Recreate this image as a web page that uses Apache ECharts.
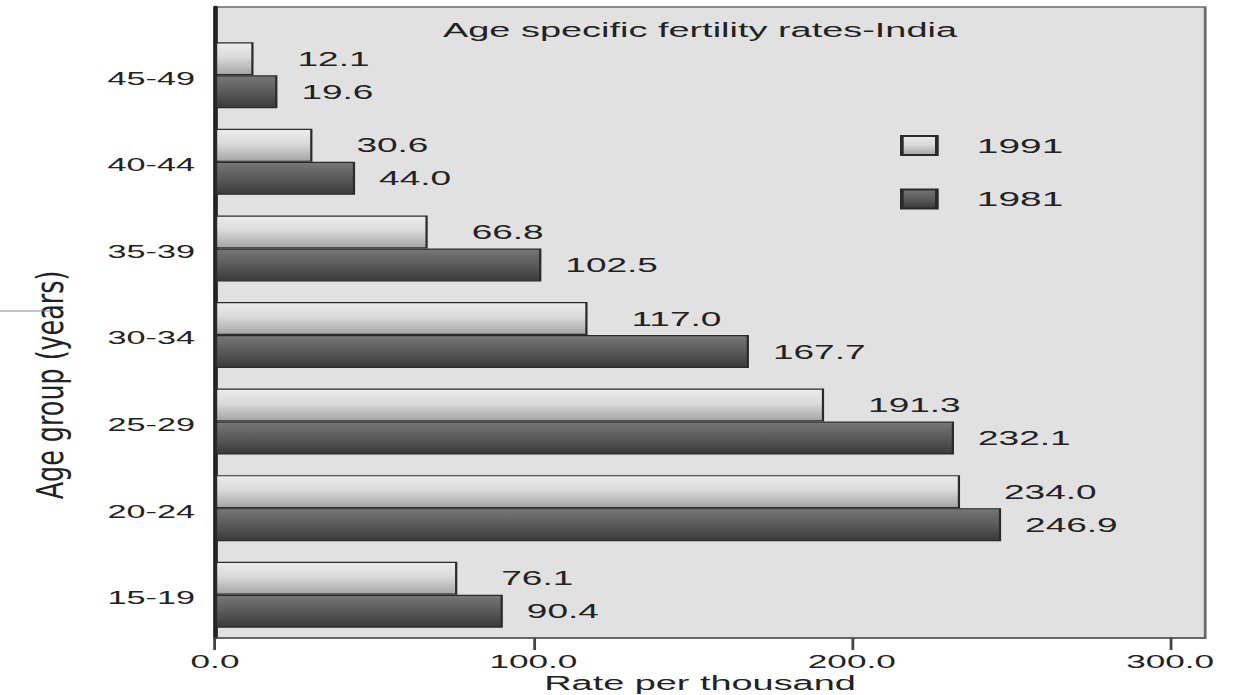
<!DOCTYPE html>
<html>
<head>
<meta charset="utf-8">
<title>Age specific fertility rates-India</title>
<script src="https://cdn.jsdelivr.net/npm/echarts@6/dist/echarts.min.js"></script>
<style>
  html, body { margin: 0; padding: 0; background: #ffffff; overflow: hidden; }
  /* the chart is laid out narrow and stretched sideways, giving the wide lettering */
  #chart { height: 695px; transform-origin: 0 0; }
</style>
</head>
<body>
<div id="chart"></div>
<script>
// Age groups, bottom to top
const categories = ['15-19', '20-24', '25-29', '30-34', '35-39', '40-44', '45-49'];
// Age specific fertility rate, per thousand women
const rate1991 = [76.1, 234.0, 191.3, 117.0, 66.8, 30.6, 12.1];
const rate1981 = [90.4, 246.9, 232.1, 167.7, 102.5, 44.0, 19.6];
const xTicks = [0, 100, 200, 300];

// horizontal stretch of the whole drawing; x positions below are given on the page
const S = 1.85;
const PAGE_W = 1243;
const W = PAGE_W / S;
const px = v => v / S;

const box = document.getElementById('chart');
box.style.width = W + 'px';
box.style.transform = 'scaleX(' + S + ')';

const FONT = 'Liberation Sans, Arial, sans-serif';
const TEXT = '#222222';

const lightFill = new echarts.graphic.LinearGradient(0, 0, 0, 1, [
  { offset: 0, color: '#ececec' },
  { offset: 0.45, color: '#dadada' },
  { offset: 1, color: '#a4a4a4' }
]);
const darkFill = new echarts.graphic.LinearGradient(0, 0, 0, 1, [
  { offset: 0, color: '#777777' },
  { offset: 0.5, color: '#5a5a5a' },
  { offset: 1, color: '#3a3a3a' }
]);

function barLabel(distance) {
  return {
    show: true,
    position: 'right',
    distance: distance,
    formatter: p => p.value.toFixed(1),
    fontFamily: FONT,
    fontSize: 20,
    color: TEXT
  };
}

const plotLeft = px(215);
const plotRight = W - px(1205);

const chart = echarts.init(box, null, { renderer: 'svg' });

chart.setOption({
  animation: false,
  backgroundColor: '#ffffff',
  grid: [
    // framed plot area with the value axis
    { left: plotLeft, right: plotRight, top: 7, bottom: 57, show: true, outerBoundsMode: 'none',
      backgroundColor: '#e1e1e1', borderColor: '#6a6a6a', borderWidth: 1.5 },
    // band area holding the bars
    { left: plotLeft, right: plotRight, top: 32, bottom: 57, outerBoundsMode: 'none' }
  ],
  xAxis: [
    {
      gridIndex: 0, type: 'value', min: 0, max: 311, interval: 100,
      axisLine: { show: true, lineStyle: { color: '#5a5a5a', width: 1.5 } },
      axisTick: { show: true, inside: false, length: 12, lineStyle: { color: '#444', width: 1.5 },
        customValues: xTicks },
      axisLabel: { fontFamily: FONT, fontSize: 19, color: TEXT, margin: 14,
        customValues: xTicks, formatter: v => v.toFixed(1) },
      splitLine: { show: false }
    },
    { gridIndex: 1, type: 'value', min: 0, max: 311, show: false }
  ],
  yAxis: [
    {
      gridIndex: 0, type: 'value', min: 0, max: 1,
      axisLine: { show: true, lineStyle: { color: '#222', width: 2.5 } },
      axisTick: { show: false }, axisLabel: { show: false }, splitLine: { show: false }
    },
    {
      gridIndex: 1, type: 'category', data: categories,
      axisLine: { show: false }, axisTick: { show: false },
      axisLabel: {
        margin: px(20),
        formatter: v => '{g|' + v + '}',
        rich: { g: { fontFamily: FONT, fontSize: 18.5, color: TEXT, padding: [6, 0, 0, 0] } }
      }
    }
  ],
  legend: {
    orient: 'vertical',
    left: px(900),
    top: 135,
    padding: 0,
    itemWidth: px(35),
    itemHeight: 19,
    itemGap: 32.5,
    icon: 'rect',
    data: ['1991', '1981'],
    textStyle: { fontFamily: FONT, fontSize: 21, color: TEXT, padding: [0, 0, 0, px(40) - 5] }
  },
  graphic: [
    {
      type: 'text', x: px(700), y: 30,
      style: { text: 'Age specific fertility rates-India', fontFamily: FONT, fontSize: 20.5,
        fill: TEXT, textAlign: 'center', textVerticalAlign: 'middle' }
    },
    {
      // value axis title
      type: 'text', x: px(700), y: 683.5, scaleX: 1.05,
      style: { text: 'Rate per thousand', fontFamily: FONT, fontSize: 19.5,
        fill: TEXT, textAlign: 'center', textVerticalAlign: 'middle' }
    },
    {
      // category axis title, drawn lengthwise-stretched along its reading direction
      type: 'text', x: px(50), y: 385, rotation: Math.PI / 2, scaleX: 1.27,
      style: { text: 'Age group (years)', fontFamily: 'DejaVu Sans, sans-serif', fontSize: 20,
        fill: TEXT, textAlign: 'center', textVerticalAlign: 'middle' }
    },
    {
      type: 'line', shape: { x1: 0, y1: 311, x2: px(52), y2: 311 },
      style: { stroke: '#8a8a8a', lineWidth: 1 }
    }
  ],
  series: [
    {
      name: '1991', type: 'bar', xAxisIndex: 1, yAxisIndex: 1,
      data: rate1991, barWidth: 33, barGap: '0%',
      itemStyle: { color: lightFill, borderColor: '#2a2a2a', borderWidth: 1.2 },
      label: barLabel(px(44))
    },
    {
      name: '1981', type: 'bar', xAxisIndex: 1, yAxisIndex: 1,
      data: rate1981, barWidth: 33, barGap: '0%',
      itemStyle: { color: darkFill, borderColor: '#2a2a2a', borderWidth: 1.2 },
      label: barLabel(px(24))
    }
  ]
});
</script>
</body>
</html>
